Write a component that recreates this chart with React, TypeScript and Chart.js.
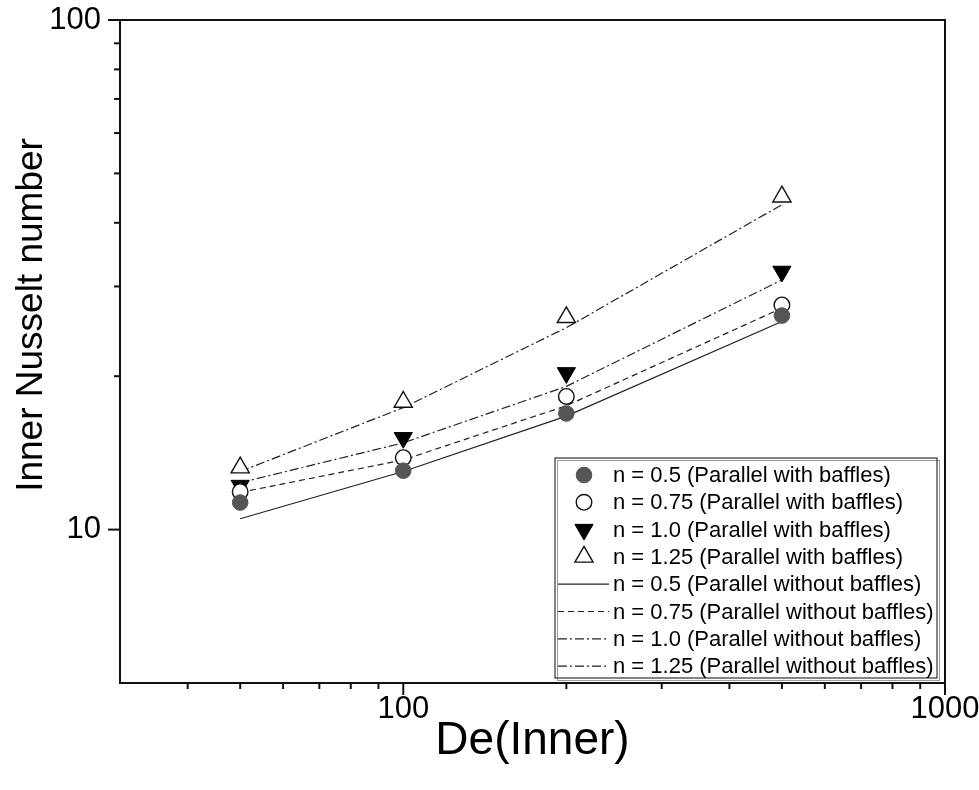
import React, { useEffect, useRef } from "react";
import { Chart, registerables } from "chart.js";

Chart.register(...registerables);

const deValues = [50, 100, 200, 500];

const nu05With = [11.3, 13.05, 16.9, 26.3];
const nu075With = [11.87, 13.84, 18.25, 27.6];
const nu10With = [12.2, 15.14, 20.3, 32.1];
const nu125With = [13.23, 17.8, 26.1, 45.0];

const nu05Without = [10.5, 13.0, 16.7, 25.6];
const nu075Without = [11.83, 13.7, 17.5, 27.2];
const nu10Without = [12.36, 14.8, 19.1, 30.9];
const nu125Without = [13.0, 17.35, 24.9, 43.4];

const seriesLabels = [
  "n = 0.5 (Parallel with baffles)",
  "n = 0.75 (Parallel with baffles)",
  "n = 1.0 (Parallel with baffles)",
  "n = 1.25 (Parallel with baffles)",
  "n = 0.5 (Parallel without baffles)",
  "n = 0.75 (Parallel without baffles)",
  "n = 1.0 (Parallel without baffles)",
  "n = 1.25 (Parallel without baffles)",
];

const xTickValues = [40, 50, 60, 70, 80, 90, 100, 200, 300, 400, 500, 600, 700, 800, 900, 1000];
const xMajor = [100, 1000];
const yTickValues = [10, 20, 30, 40, 50, 60, 70, 80, 90, 100];
const yMajor = [10, 100];

const xTitle = "De(Inner)";
const yTitle = "Inner Nusselt number";

const FONT = "'Liberation Sans', Arial, sans-serif";

const pts = (ys: number[]) => deValues.map((x, i) => ({ x, y: ys[i] }));

function drawMarker(ctx: CanvasRenderingContext2D, style: string, x: number, y: number, r: number, rot: number, fill: string, stroke: string, lw: number) {
  ctx.save();
  ctx.beginPath();
  if (style === "circle") {
    ctx.arc(x, y, r, 0, Math.PI * 2);
  } else {
    let rad = (rot * Math.PI) / 180;
    ctx.moveTo(x + Math.sin(rad) * r, y - Math.cos(rad) * r);
    rad += (2 * Math.PI) / 3;
    ctx.lineTo(x + Math.sin(rad) * r, y - Math.cos(rad) * r);
    rad += (2 * Math.PI) / 3;
    ctx.lineTo(x + Math.sin(rad) * r, y - Math.cos(rad) * r);
    ctx.closePath();
  }
  ctx.fillStyle = fill;
  ctx.fill();
  ctx.lineWidth = lw;
  ctx.strokeStyle = stroke;
  ctx.stroke();
  ctx.restore();
}

const framePlugin = {
  id: "frameAndExtras",
  afterDraw(chart: any) {
    const ctx = chart.ctx as CanvasRenderingContext2D;
    const { left, right, top, bottom } = chart.chartArea;
    const xs = chart.scales.x;
    const ys = chart.scales.y;
    ctx.save();
    // frame
    ctx.strokeStyle = "#111";
    ctx.lineWidth = 2;
    ctx.beginPath();
    ctx.moveTo(left, top);
    ctx.lineTo(right, top);
    ctx.lineTo(right, bottom);
    ctx.stroke();
    // ticks
    ctx.lineWidth = 2;
    xTickValues.forEach((v) => {
      const px = xs.getPixelForValue(v);
      const len = xMajor.includes(v) ? 12 : 6;
      ctx.beginPath();
      ctx.moveTo(px, bottom);
      ctx.lineTo(px, bottom + len);
      ctx.stroke();
    });
    yTickValues.forEach((v) => {
      const py = ys.getPixelForValue(v);
      const len = yMajor.includes(v) ? 12 : 6;
      ctx.beginPath();
      ctx.moveTo(left, py);
      ctx.lineTo(left - len, py);
      ctx.stroke();
    });
    // y title
    ctx.save();
    ctx.translate(32, 315);
    ctx.rotate(-Math.PI / 2);
    ctx.fillStyle = "#000";
    ctx.font = `37px ${FONT}`;
    ctx.textAlign = "center";
    ctx.textBaseline = "middle";
    ctx.fillText(yTitle, 0, 0);
    ctx.restore();

    // legend
    const bx = 555, by = 458, bw = 382, bh = 220;
    ctx.fillStyle = "#fff";
    ctx.fillRect(bx, by, bw, bh);
    ctx.strokeStyle = "#999";
    ctx.lineWidth = 1;
    ctx.strokeRect(bx + 2.5, by + 2.5, bw, bh);
    ctx.strokeStyle = "#333";
    ctx.lineWidth = 1.2;
    ctx.strokeRect(bx, by, bw, bh);
    const rowH = 27.3;
    chart.data.datasets.forEach((ds: any, i: number) => {
      const cy = by + 17 + i * rowH;
      if (ds.showLine) {
        ctx.save();
        ctx.strokeStyle = ds.borderColor;
        ctx.lineWidth = ds.borderWidth;
        ctx.setLineDash(ds.borderDash || []);
        ctx.beginPath();
        ctx.moveTo(558, cy);
        ctx.lineTo(609, cy);
        ctx.stroke();
        ctx.restore();
      } else {
        drawMarker(ctx, ds.pointStyle, 584, cy, ds.pointRadius, ds.rotation || 0, ds.backgroundColor, ds.borderColor, ds.pointBorderWidth);
      }
      ctx.fillStyle = "#000";
      ctx.font = `22px ${FONT}`;
      ctx.textAlign = "left";
      ctx.textBaseline = "middle";
      ctx.fillText(ds.label, 613, cy + 1);
    });
    ctx.restore();
  },
};

export default function App() {
  const canvasRef = useRef<HTMLCanvasElement | null>(null);

  useEffect(() => {
    if (!canvasRef.current) return;
    const markerBase = { showLine: false, pointHoverRadius: 0 };
    const lineBase = { showLine: true, pointRadius: 0, pointHoverRadius: 0, borderWidth: 1.2, borderColor: "#222", backgroundColor: "#222", tension: 0, fill: false };
    const chart = new Chart(canvasRef.current, {
      type: "scatter",
      data: {
        datasets: [
          { ...markerBase, label: seriesLabels[0], data: pts(nu05With), pointStyle: "circle", pointRadius: 7.8, backgroundColor: "#555", borderColor: "#555", pointBorderWidth: 1 },
          { ...markerBase, label: seriesLabels[1], data: pts(nu075With), pointStyle: "circle", pointRadius: 7.8, backgroundColor: "#fff", borderColor: "#111", pointBorderWidth: 1.4 },
          { ...markerBase, label: seriesLabels[2], data: pts(nu10With), pointStyle: "triangle", rotation: 180, pointRadius: 10.5, backgroundColor: "#000", borderColor: "#000", pointBorderWidth: 1 },
          { ...markerBase, label: seriesLabels[3], data: pts(nu125With), pointStyle: "triangle", pointRadius: 10.5, backgroundColor: "#fff", borderColor: "#111", pointBorderWidth: 1.4 },
          { ...lineBase, label: seriesLabels[4], data: pts(nu05Without), borderDash: [] },
          { ...lineBase, label: seriesLabels[5], data: pts(nu075Without), borderDash: [6, 4] },
          { ...lineBase, label: seriesLabels[6], data: pts(nu10Without), borderDash: [9, 3, 2, 3] },
          { ...lineBase, label: seriesLabels[7], data: pts(nu125Without), borderDash: [9, 3, 2, 3] },
        ] as any,
      },
      options: {
        animation: false,
        responsive: true,
        maintainAspectRatio: false,
        events: [],
        layout: { padding: { left: 0, right: 34, top: 20, bottom: 0 } },
        plugins: { legend: { display: false }, tooltip: { enabled: false } },
        scales: {
          x: {
            type: "logarithmic",
            min: 30,
            max: 1000,
            afterBuildTicks: (scale: any) => {
              scale.ticks = xTickValues.map((v) => ({ value: v }));
            },
            afterFit: (scale: any) => {
              scale.height = 107;
              scale.paddingLeft = 0;
              scale.paddingRight = 0;
            },
            grid: { display: false, drawTicks: false },
            border: { display: true, width: 2, color: "#111" },
            ticks: {
              autoSkip: false,
              maxRotation: 0,
              padding: 8,
              color: "#000",
              font: { family: FONT, size: 31 },
              callback: (v: any) => (xMajor.includes(Number(v)) ? String(v) : ""),
            },
            title: {
              display: true,
              text: xTitle,
              color: "#000",
              font: { family: FONT, size: 46 },
              padding: { top: 0, bottom: 21 },
            },
          },
          y: {
            type: "logarithmic",
            min: 5,
            max: 100,
            afterBuildTicks: (scale: any) => {
              scale.ticks = yTickValues.map((v) => ({ value: v }));
            },
            afterFit: (scale: any) => {
              scale.width = 120;
              scale.paddingTop = 0;
              scale.paddingBottom = 0;
            },
            grid: { display: false, drawTicks: false },
            border: { display: true, width: 2, color: "#111" },
            ticks: {
              autoSkip: false,
              padding: 19,
              color: "#000",
              font: { family: FONT, size: 31 },
              callback: (v: any) => (yMajor.includes(Number(v)) ? String(v) : ""),
            },
          },
        },
      },
      plugins: [framePlugin],
    });
    return () => chart.destroy();
  }, []);

  return (
    <div style={{ position: "fixed", left: 0, top: 0, width: 979, height: 790, background: "#fff" }}>
      <canvas ref={canvasRef} />
    </div>
  );
}
